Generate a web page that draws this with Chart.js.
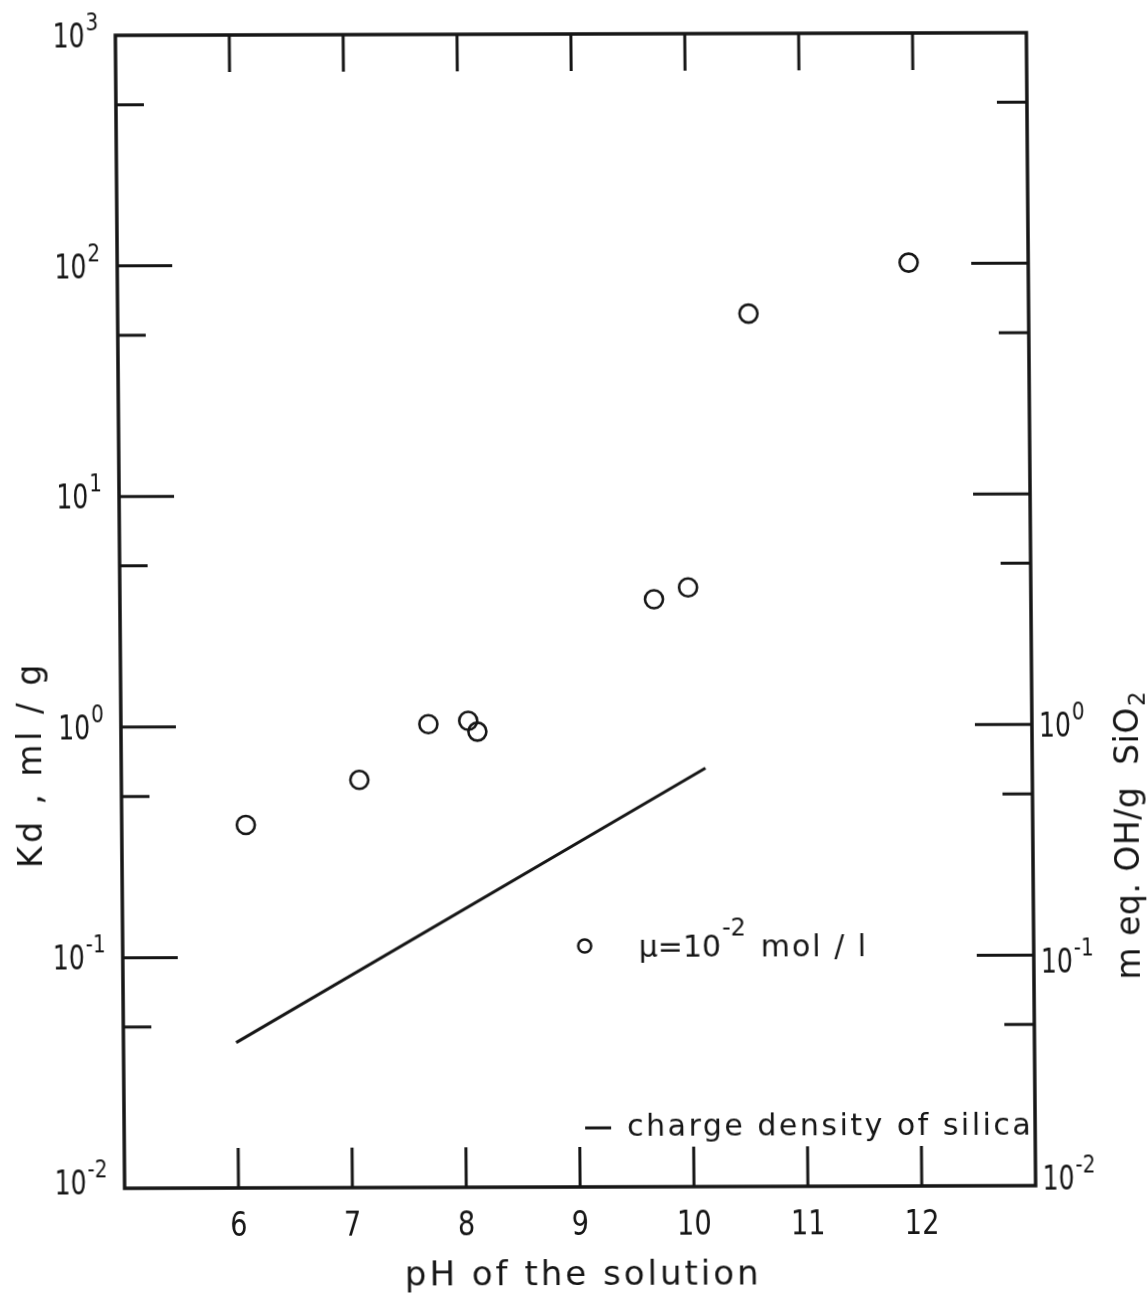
<!DOCTYPE html>
<html>
<head>
<meta charset="utf-8">
<script src="https://cdn.jsdelivr.net/npm/chart.js@4"></script>
<style>
  html, body { margin: 0; padding: 0; background: #fff; overflow: hidden; }
  /* the scanned original is slightly sheared */
  #kdChart { display: block; transform-origin: 574px 611px; transform: skewY(-0.167deg) skewX(0.46deg); }
</style>
</head>
<body>
<canvas id="kdChart" width="1148" height="1294"></canvas>
<script>
// measured Kd (open circles)
const phKd = [6.09, 7.09, 7.70, 8.05, 8.13, 9.69, 9.99, 10.54, 11.95];
const kdValues = [0.375, 0.586, 1.02, 1.055, 0.946, 3.53, 3.97, 61, 101];
// charge density of silica (solid line, right axis)
const phCharge = [5.99, 10.13];
const chargeDensity = [0.0427, 0.653];
// axes
const phTicks = [6, 7, 8, 9, 10, 11, 12];
const leftLabelExp = [3, 2, 1, 0, -1, -2];
const leftTickExp = [2, 1, 0, -1];
const rightLabelExp = [0, -1, -2];
const rightTickExp = [2, 1, 0, -1];
const minorTicks = [500, 50, 5, 0.5, 0.05];

const INK = '#161616';
const FONT = '"DejaVu Sans", "Liberation Sans", sans-serif';

// plotter-style digits are narrower than DejaVu, so squeeze them a little
function narrowText(ctx, s, x, y, ratio) {
  const w = ctx.measureText(s).width * ratio;
  ctx.fillText(s, x, y, w);
  return w;
}

function pow10(ctx, exp, x, y, align) {
  ctx.font = '34px ' + FONT;
  const wb = ctx.measureText('10').width * 0.74;
  ctx.font = '25px ' + FONT;
  const es = String(exp);
  const we = ctx.measureText(es).width * 0.8;
  const x0 = align === 'right' ? x - wb - we - 1 : x;
  ctx.textAlign = 'left';
  ctx.textBaseline = 'alphabetic';
  ctx.font = '34px ' + FONT;
  narrowText(ctx, '10', x0, y + 12, 0.74);
  ctx.font = '25px ' + FONT;
  narrowText(ctx, es, x0 + wb + 1, y - 5, 0.8);
}

const framePlugin = {
  id: 'frame',
  afterDatasetsDraw(chart) {
    const ctx = chart.ctx;
    const { left, right, top, bottom } = chart.chartArea;
    const xs = chart.scales.x, ys = chart.scales.y;
    ctx.save();
    ctx.strokeStyle = INK;
    ctx.fillStyle = INK;
    ctx.lineCap = 'butt';

    ctx.lineWidth = 3.5;
    ctx.strokeRect(left, top, right - left, bottom - top);

    // inward ticks
    ctx.lineWidth = 3;
    ctx.beginPath();
    phTicks.forEach(v => {
      const x = xs.getPixelForValue(v);
      ctx.moveTo(x, bottom); ctx.lineTo(x, bottom - 40);
      ctx.moveTo(x, top); ctx.lineTo(x, top + 37);
    });
    leftTickExp.forEach(e => {
      const y = ys.getPixelForValue(Math.pow(10, e));
      ctx.moveTo(left, y); ctx.lineTo(left + 55, y);
    });
    rightTickExp.forEach(e => {
      const y = ys.getPixelForValue(Math.pow(10, e));
      ctx.moveTo(right, y); ctx.lineTo(right - 57, y);
    });
    minorTicks.forEach(v => {
      const y = ys.getPixelForValue(v);
      ctx.moveTo(left, y); ctx.lineTo(left + 28, y);
      ctx.moveTo(right, y); ctx.lineTo(right - 30, y);
    });
    ctx.stroke();

    // tick labels
    leftLabelExp.forEach(e => {
      let y = ys.getPixelForValue(Math.pow(10, e));
      if (e === -2) y -= 6;
      pow10(ctx, e, left - 17, y, 'right');
    });
    rightLabelExp.forEach(e => {
      let y = ys.getPixelForValue(Math.pow(10, e));
      if (e === -2) y -= 8;
      else if (e === -1) y += 6;
      pow10(ctx, e, right + 7, y, 'left');
    });
    ctx.font = '34px ' + FONT;
    ctx.textAlign = 'center';
    ctx.textBaseline = 'alphabetic';
    phTicks.forEach(v => {
      narrowText(ctx, String(v), xs.getPixelForValue(v), 1235, 0.8);
    });

    // axis titles
    ctx.letterSpacing = '3px';
    ctx.fillText('pH of the solution', 578, 1285);

    ctx.save();
    ctx.translate(40, 763);
    ctx.rotate(-Math.PI / 2);
    ctx.font = '33px ' + FONT;
    ctx.letterSpacing = '3.5px';
    ctx.fillText('Kd , ml / g', 0, 0);
    ctx.restore();

    ctx.save();
    ctx.translate(1137, 838);
    ctx.rotate(-Math.PI / 2);
    ctx.font = '33px ' + FONT;
    ctx.letterSpacing = '0.5px';
    const main = 'm eq. OH/g  SiO';
    const wm = ctx.measureText(main).width;
    ctx.textAlign = 'left';
    ctx.fillText(main, -wm / 2 - 7, 0);
    ctx.font = '23px ' + FONT;
    ctx.fillText('2', wm / 2 - 6, 7);
    ctx.restore();

    // legend
    ctx.letterSpacing = '0px';
    ctx.lineWidth = 2.5;
    ctx.beginPath();
    ctx.arc(582, 946, 6.5, 0, Math.PI * 2);
    ctx.stroke();
    ctx.textAlign = 'left';
    ctx.font = '30px ' + FONT;
    ctx.fillText('\u03bc=10', 636, 957);
    const wmu = ctx.measureText('\u03bc=10').width;
    ctx.font = '24px ' + FONT;
    ctx.fillText('-2', 636 + wmu + 1, 936);
    ctx.font = '30px ' + FONT;
    ctx.letterSpacing = '2px';
    ctx.fillText('mol / l', 758, 957);

    ctx.lineWidth = 3;
    ctx.beginPath();
    ctx.moveTo(581, 1128); ctx.lineTo(607, 1128);
    ctx.stroke();
    ctx.letterSpacing = '2.5px';
    ctx.fillText('charge density of silica', 623, 1136);
    ctx.restore();
  }
};

new Chart(document.getElementById('kdChart').getContext('2d'), {
  type: 'scatter',
  data: {
    datasets: [
      {
        label: 'Kd',
        data: phKd.map((x, i) => ({ x: x, y: kdValues[i] })),
        yAxisID: 'y',
        showLine: false,
        pointStyle: 'circle',
        pointRadius: 9,
        pointBorderWidth: 2.6,
        pointBorderColor: INK,
        pointBackgroundColor: 'rgba(0,0,0,0)'
      },
      {
        label: 'charge density of silica',
        data: phCharge.map((x, i) => ({ x: x, y: chargeDensity[i] })),
        yAxisID: 'y2',
        showLine: true,
        borderColor: INK,
        borderWidth: 3,
        pointRadius: 0
      }
    ]
  },
  options: {
    responsive: false,
    animation: false,
    devicePixelRatio: 1,
    layout: { padding: { left: 120, right: 117, top: 34, bottom: 107 } },
    scales: {
      x: { type: 'linear', min: 5, max: 13, display: false },
      y: { type: 'logarithmic', min: 0.01, max: 1000, display: false },
      y2: { type: 'logarithmic', min: 0.01, max: 1000, display: false, position: 'right' }
    },
    plugins: {
      legend: { display: false },
      tooltip: { enabled: false }
    }
  },
  plugins: [framePlugin]
});
</script>
</body>
</html>
